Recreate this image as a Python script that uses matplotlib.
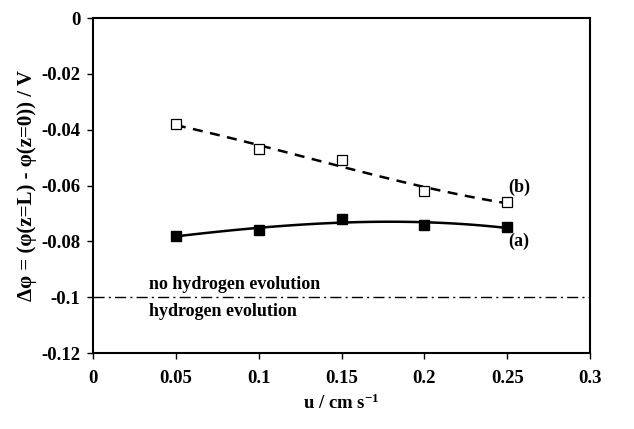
import numpy as np
import matplotlib
matplotlib.use('Agg')
import matplotlib.pyplot as plt

plt.rcParams['font.family'] = ['Liberation Serif', 'DejaVu Serif']
plt.rcParams['font.weight'] = 'bold'
plt.rcParams['axes.labelweight'] = 'bold'
plt.rcParams['mathtext.fontset'] = 'custom'
plt.rcParams['mathtext.rm'] = 'Liberation Serif:bold'
plt.rcParams['mathtext.bf'] = 'Liberation Serif:bold'
plt.rcParams['mathtext.default'] = 'bf'

#%% data
u = [0.05, 0.10, 0.15, 0.20, 0.25]
dphi_a = [-0.078, -0.076, -0.072, -0.074, -0.075]   # filled squares, solid trend
dphi_b = [-0.038, -0.047, -0.051, -0.062, -0.066]   # open squares, dashed trend
h2_limit = -0.1

xticks = [0, 0.05, 0.1, 0.15, 0.2, 0.25, 0.3]
yticks = [0, -0.02, -0.04, -0.06, -0.08, -0.1, -0.12]
xticklabels = ['0', '0.05', '0.1', '0.15', '0.2', '0.25', '0.3']
yticklabels = ['0', '-0.02', '-0.04', '-0.06', '-0.08', '-0.1', '-0.12']

#%% trend lines (polynomial fit through the points)
uu = np.linspace(u[0], u[-1], 100)
fit_a = np.polyval(np.polyfit(u, dphi_a, 3), uu)
fit_b = np.polyval(np.polyfit(u, dphi_b, 3), uu)

fig = plt.figure(figsize=(6.34, 4.29), dpi=100)
ax = fig.add_axes([0.1467, 0.177, 0.7839, 0.781])

ax.plot(uu, fit_a, 'k-', lw=1.8)
ax.plot(uu, fit_b, 'k--', lw=1.8, dashes=(4, 3))
ax.plot(u, dphi_a, 'ks', ms=6.5)
ax.plot(u, dphi_b, 's', ms=6.5, mfc='white', mec='k', mew=0.9)
ax.axhline(h2_limit, color='k', lw=1.0, ls=(0, (8, 3, 1.5, 3)))

fs = 13
ax.text(0.2505, -0.0607, '(b)', fontsize=fs, va='center', ha='left')
ax.text(0.2505, -0.0800, '(a)', fontsize=fs, va='center', ha='left')
ax.text(0.034, -0.0953, 'no hydrogen evolution', fontsize=fs, va='center', ha='left')
ax.text(0.034, -0.1052, 'hydrogen evolution', fontsize=fs, va='center', ha='left')

ax.set_xlim(0, 0.3)
ax.set_ylim(-0.12, 0)
ax.set_xticks(xticks)
ax.set_xticklabels(xticklabels)
ax.set_yticks(yticks)
ax.set_yticklabels(yticklabels)
ax.tick_params(direction='out', length=4, width=1, labelsize=13.5)
ax.tick_params(axis='x', pad=8)
ax.tick_params(axis='y', pad=5)
for s in ax.spines.values():
    s.set_linewidth(1.5)

ax.set_xlabel('u / cm s$^{-1}$', fontsize=13.5, labelpad=5)
ax.set_ylabel('Δφ = (φ(z=L) - φ(z=0)) / V', fontsize=15, labelpad=3)

fig.savefig('out.png', dpi=100)
